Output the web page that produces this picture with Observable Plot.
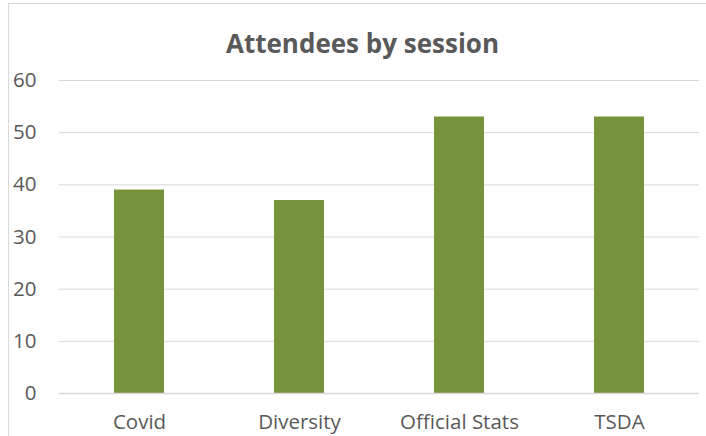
<!DOCTYPE html>
<html>
<head>
<meta charset="utf-8">
<script src="https://cdn.jsdelivr.net/npm/d3@7"></script>
<script src="https://cdn.jsdelivr.net/npm/@observablehq/plot@0.6"></script>
<style>
  html, body { margin: 0; padding: 0; background: #fff; overflow: hidden; }
  #wrap { position: relative; width: 706px; height: 436px; }
  #frame { position: absolute; left: 8px; top: 3px; width: 720px; height: 460px; border: 1px solid #d9d9d9; box-sizing: border-box; }
  #chart { position: absolute; left: 0; top: 0; }
</style>
</head>
<body>
<div id="wrap">
  <div id="frame"></div>
  <div id="chart"></div>
</div>
<script>
const title = "Attendees by session";
const categories = ["Covid", "Diversity", "Official Stats", "TSDA"];
const attendees = [39, 37, 53, 53];
const yTicks = [0, 10, 20, 30, 40, 50, 60];

const data = categories.map((c, i) => ({category: c, value: attendees[i]}));

const chart = Plot.plot({
  width: 706,
  height: 436,
  marginLeft: 59,
  marginRight: 7,
  marginTop: 80,
  marginBottom: 43,
  style: {fontFamily: "'Open Sans', sans-serif", fontSize: "20.5px", color: "#595959", background: "transparent"},
  x: {domain: categories, paddingInner: 0.6875, paddingOuter: 0.34375, label: null, tickSize: 0, tickPadding: 21},
  y: {domain: [0, 60], ticks: yTicks, label: null, tickSize: 0, tickPadding: 23},
  marks: [
    Plot.gridY(yTicks.filter(t => t > 0), {stroke: "#d9d9d9", strokeOpacity: 1, strokeWidth: 1}),
    Plot.barY(data, {x: "category", y: "value", fill: "#77933C"}),
    Plot.ruleY([0], {stroke: "#d9d9d9", strokeWidth: 1.5}),
    Plot.text([title], {frameAnchor: "top", lineAnchor: "top", dy: -45.5, dx: -17, text: d => d, fontSize: 26, fontWeight: "bold", fill: "#595959", fontFamily: "'Open Sans', sans-serif"})
  ]
});
document.getElementById("chart").appendChild(chart);
</script>
</body>
</html>
